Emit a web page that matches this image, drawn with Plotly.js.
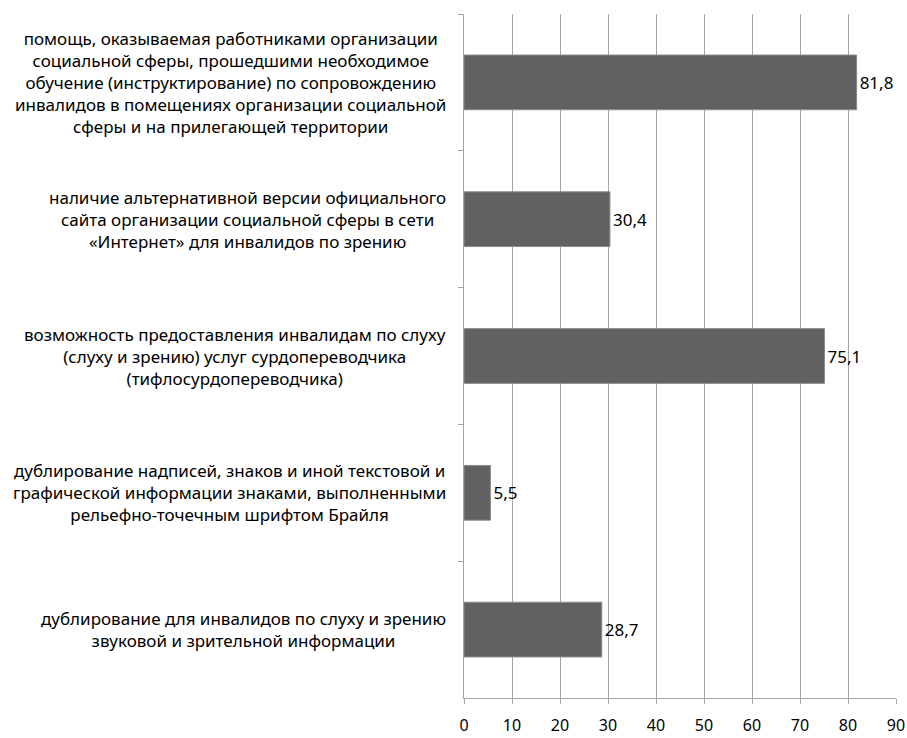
<!DOCTYPE html>
<html>
<head>
<meta charset="utf-8">
<script src="https://cdn.plot.ly/plotly-3.0.1.min.js"></script>
<style>html,body{margin:0;padding:0;background:#fff;}</style>
</head>
<body>
<div id="chart" style="width:907px;height:738px;"></div>
<script>
const categories = [
  "помощь, оказываемая работниками организации<br>социальной сферы, прошедшими необходимое<br>обучение (инструктирование) по сопровождению<br>инвалидов в помещениях организации социальной<br>сферы и на прилегающей территории",
  "наличие альтернативной версии официального<br>сайта организации социальной сферы в сети<br>«Интернет» для инвалидов по зрению",
  "возможность предоставления инвалидам по слуху<br>(слуху и зрению) услуг сурдопереводчика<br>(тифлосурдопереводчика)",
  "дублирование надписей, знаков и иной текстовой и<br>графической информации знаками, выполненными<br>рельефно-точечным шрифтом Брайля",
  "дублирование для инвалидов по слуху и зрению<br>звуковой и зрительной информации"
];
const values = [81.8, 30.4, 75.1, 5.5, 28.7];
const xTicks = [0, 10, 20, 30, 40, 50, 60, 70, 80, 90];

const FONT = "Noto Sans, Open Sans, sans-serif";

const trace = {
  type: "bar",
  orientation: "h",
  y: categories,
  x: values,
  marker: {color: "#616161", line: {color: "#8a8a8a", width: 1}},
  texttemplate: "%{x:.1f}",
  textposition: "outside",
  cliponaxis: false,
  textfont: {family: FONT, size: 17, color: "#000"},
  hoverinfo: "none"
};

const annotations = categories.map(c => ({
  xref: "paper", yref: "y",
  x: 0, y: c,
  xanchor: "right", yanchor: "middle",
  xshift: -16,
  align: "center",
  showarrow: false,
  text: c,
  font: {family: FONT, size: 17, color: "#000"}
}));

const layout = {
  width: 907, height: 738,
  margin: {l: 464, r: 11, t: 14, b: 40},
  paper_bgcolor: "#fff", plot_bgcolor: "#fff",
  separators: ", ",
  bargap: 0.6,
  showlegend: false,
  font: {family: FONT, size: 17, color: "#000"},
  xaxis: {
    range: [0, 90],
    tickvals: xTicks,
    ticktext: xTicks.map(String),
    showgrid: true, gridcolor: "#a6a6a6", gridwidth: 1,
    zeroline: false,
    showline: true, linecolor: "#a6a6a6", linewidth: 1,
    ticks: "outside", ticklen: 5, tickcolor: "#a6a6a6",
    ticklabelstandoff: 8,
    tickfont: {family: FONT, size: 16, color: "#000"}
  },
  yaxis: {
    type: "category",
    autorange: "reversed",
    showticklabels: false,
    showgrid: false,
    zeroline: false,
    showline: true, linecolor: "#a6a6a6", linewidth: 1,
    ticks: "outside", tickson: "boundaries", ticklen: 5, tickcolor: "#a6a6a6"
  },
  annotations: annotations
};

Plotly.newPlot("chart", [trace], layout, {displayModeBar: false, staticPlot: true});
</script>
</body>
</html>
